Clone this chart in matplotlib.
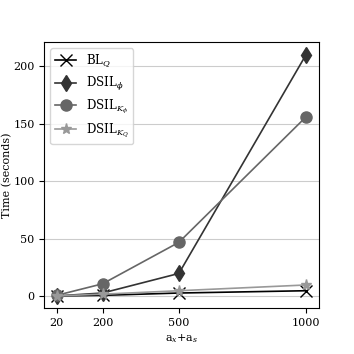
import matplotlib
matplotlib.use("Agg")
import matplotlib.pyplot as plt

plt.rcParams["font.family"] = "DejaVu Serif"
plt.rcParams["mathtext.fontset"] = "dejavuserif"
plt.rcParams["font.size"] = 8

sizes = [20, 200, 500, 1000]
bl_q = [0.5, 1.0, 3.0, 5.0]
dsil_phi = [0.5, 3.0, 20.0, 210.0]
dsil_k_phi = [1.0, 11.0, 47.0, 156.0]
dsil_k_q = [0.5, 2.0, 5.0, 10.0]

series = [
    (bl_q, "BL$_Q$", "x", "#000000"),
    (dsil_phi, "DSIL$_\\phi$", "d", "#333333"),
    (dsil_k_phi, "DSIL$_{K_\\phi}$", "o", "#666666"),
    (dsil_k_q, "DSIL$_{K_Q}$", "*", "#999999"),
]

fig = plt.figure(figsize=(3.54, 3.54), dpi=100)
ax = fig.add_axes([0.125, 0.13, 0.775, 0.75])
for values, label, marker, color in series:
    ax.plot(sizes, values, marker=marker, color=color, label=label,
            markersize=8, linewidth=1.2)

ax.set_xticks(sizes)
ax.set_xlabel("a$_x$+a$_s$", labelpad=3)
ax.set_ylabel("Time (seconds)", labelpad=1)
ax.grid(axis="y", color="#cccccc", linewidth=0.8)
ax.set_axisbelow(True)
ax.legend(loc="upper left", fontsize=8.5, handlelength=1.8,
          labelspacing=0.45, borderpad=0.4)

fig.savefig("out.png", dpi=100, facecolor="white")
